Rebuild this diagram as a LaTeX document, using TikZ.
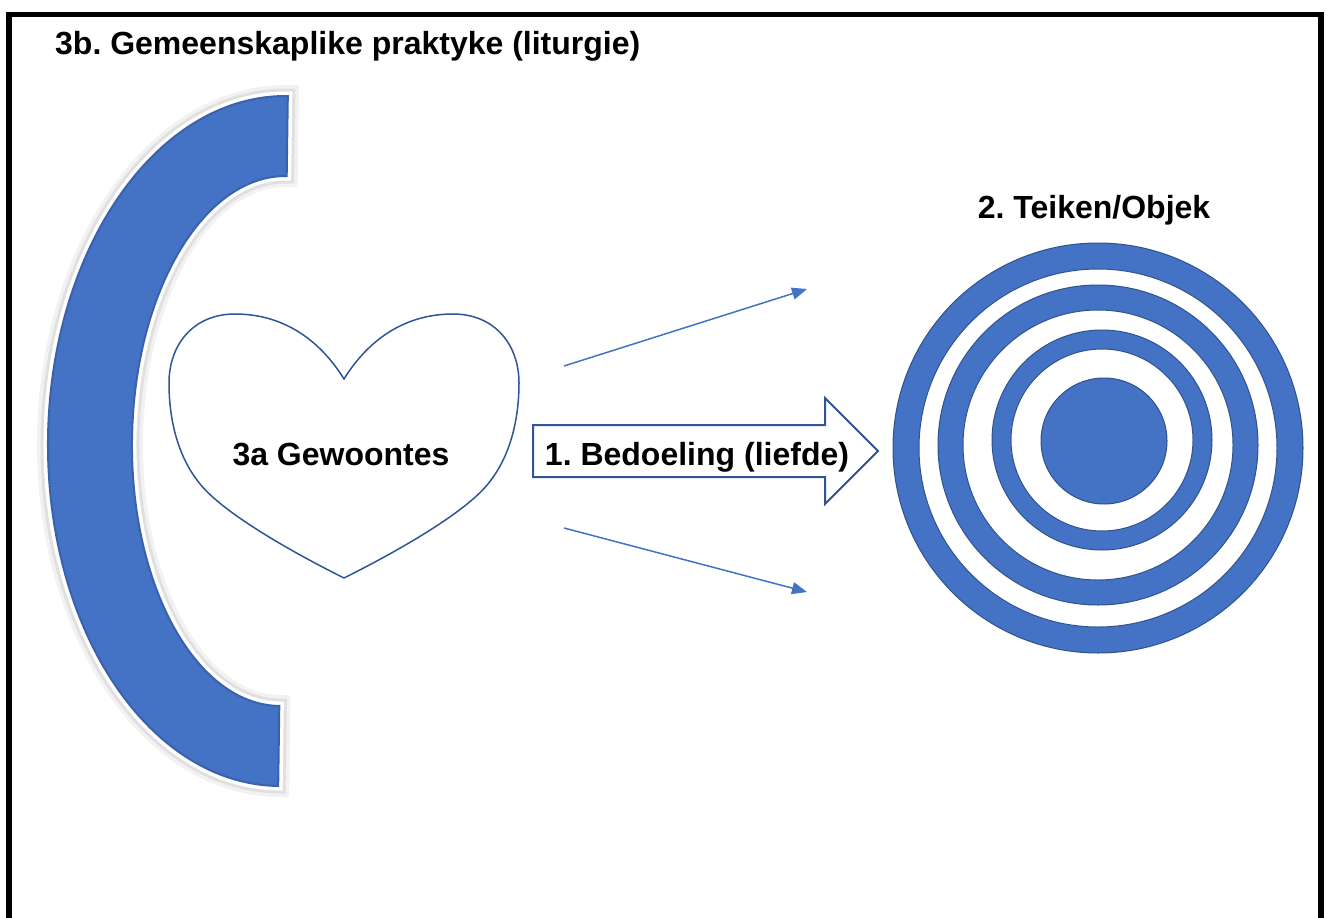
\documentclass[tikz,border=0pt]{standalone}
\usepackage{fontspec}
\setmainfont{Liberation Sans}
\usepackage{tikz}
\usetikzlibrary{arrows.meta,calc}
\definecolor{ringblue}{HTML}{4472C4}
\definecolor{ringedge}{HTML}{2F528F}
\definecolor{heartedge}{HTML}{2F5597}
\definecolor{arcedge}{HTML}{3A62AC}
\tikzset{
	lbl/.style={font=\fontsize{32}{38}\selectfont\bfseries\frenchspacing, inner sep=0pt},
	ring/.style={draw=ringedge, line width=1pt},
	thin arrow/.style={draw=ringblue, line width=1.5pt, -{Triangle[length=15pt,width=12pt]}}
}

\begin{document}
\begin{tikzpicture}[x=1pt,y=-1pt]
	
	\useasboundingbox (0,0) rectangle (1328,918);
	\fill[white] (0,0) rectangle (1328,918);
	\draw[line width=5.5pt] (9,930) -- (9,14.5) -- (1321,14.5) -- (1321,930);
	
	\node[lbl, anchor=base west] (liturgy) at (55,54) {3b. Gemeenskaplike praktyke (liturgie)};
	
	\begin{scope}[rotate around={-0.8:(283,441)}]
	\draw[preaction={draw=black!5, line width=22pt},
	      preaction={draw=black!12, line width=15pt},
	      preaction={draw=white, line width=9pt},
	      fill=ringblue, draw=arcedge, line width=2pt]
		(283,786) arc[start angle=90, end angle=270, x radius=235, y radius=345]
		-- (283,176) arc[start angle=270, end angle=90, x radius=151, y radius=265] -- cycle;
	\end{scope}
	
	\draw[heartedge, fill=white, line width=1.5pt]
		(344,379) .. controls (365,345) and (400,314) .. (453,314)
		.. controls (495,314) and (519,345) .. (519,383)
		.. controls (519,420) and (510,455) .. (491,480)
		.. controls (470,510) and (400,550) .. (344,578)
		.. controls (288,550) and (218,510) .. (197,480)
		.. controls (178,455) and (169,420) .. (169,383)
		.. controls (169,345) and (193,314) .. (235,314)
		.. controls (288,314) and (323,345) .. (344,379) -- cycle;
	\node[lbl, anchor=base] (habits) at (341,465) {3a Gewoontes};
	
	\draw[heartedge, fill=white, line width=2pt, line join=miter]
		(533,425) -- (825,425) -- (825,398) -- (878,451) -- (825,504) -- (825,477) -- (533,477) -- cycle;
	\node[lbl, anchor=base] (intent) at (697,465) {1. Bedoeling (liefde)};
	
	\coordinate (upstart) at (564,366);
	\coordinate (uptip) at (807,289);
	\coordinate (downstart) at (564,528);
	\coordinate (downtip) at (807,592);
	\draw[thin arrow] (upstart) -- (uptip);
	\draw[thin arrow] (downstart) -- (downtip);
	
	\node[lbl, anchor=base] (target) at (1094,218) {2. Teiken/Objek};
	\fill[ring, fill=ringblue] (1098,448) circle (205);
	\fill[ring, fill=white] (1098,448) circle (179);
	\fill[ring, fill=ringblue] (1098,445) circle (160);
	\fill[ring, fill=white] (1098,445) circle (135);
	\fill[ring, fill=ringblue] (1102,440) circle (110);
	\fill[ring, fill=white] (1102,440) circle (91);
	\fill[ring, fill=ringblue] (1104,441) circle (63);
	
\end{tikzpicture}
\end{document}
